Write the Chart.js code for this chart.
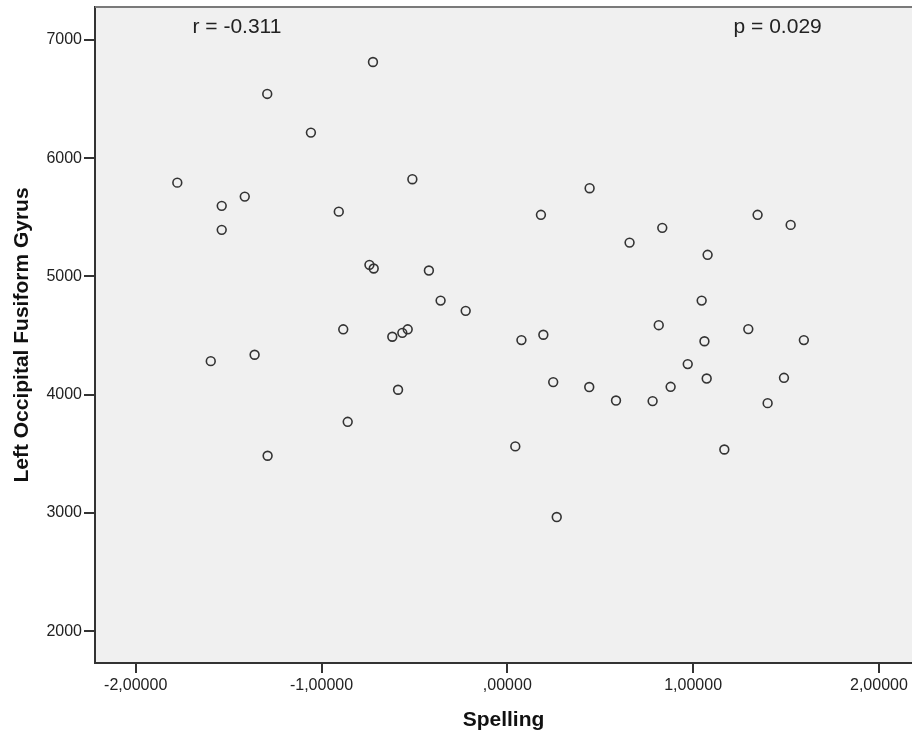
<!DOCTYPE html>
<html>
<head>
<meta charset="utf-8">
<script src="https://cdn.jsdelivr.net/npm/chart.js@4.4.1/dist/chart.umd.min.js"></script>
<style>
  html, body { margin: 0; padding: 0; background: #fff; }
  canvas { display: block; }
</style>
</head>
<body>
<canvas id="scatter" width="912" height="742"></canvas>
<script>
// values
const spelling = [
  -0.723, -1.292, -1.057, -1.776, -1.413, -1.537, -1.537, -0.907, -0.742, -0.719,
  -0.883, -0.511, -0.422, -0.359, -0.224, -0.619, -0.565, -0.536, -0.588, -1.596,
  -1.360, -0.859, -1.290, 0.181, 0.443, 0.658, 0.834, 1.347, 1.525, 1.078,
  1.046, 0.815, 1.297, 1.061, 1.596, 0.076, 0.194, 0.247, 0.441, 0.585,
  0.782, 0.971, 1.073, 0.879, 1.489, 1.401, 1.168, 0.043, 0.266
];
const fusiform = [
  6813, 6543, 6216, 5793, 5675, 5597, 5394, 5548, 5098, 5067,
  4553, 5822, 5050, 4796, 4709, 4490, 4523, 4553, 4042, 4284,
  4338, 3771, 3484, 5521, 5746, 5286, 5411, 5521, 5436, 5183,
  4796, 4588, 4555, 4452, 4462, 4462, 4507, 4107, 4065, 3951,
  3946, 4259, 4137, 4067, 4143, 3929, 3537, 3563, 2966
];
const xTicks = [-2, -1, 0, 1, 2];
const xTickLabels = ["-2,00000", "-1,00000", ",00000", "1,00000", "2,00000"];
const yTicks = [2000, 3000, 4000, 5000, 6000, 7000];
const statLabels = ["r = -0.311", "p = 0.029"];

const points = spelling.map((x, i) => ({ x, y: fusiform[i] }));

function noLabelPadding(scale) {
  scale.paddingLeft = 0;
  scale.paddingRight = 0;
  scale.paddingTop = 0;
  scale.paddingBottom = 0;
}

const plotFrame = {
  id: "plotFrame",
  beforeDraw(chart) {
    const { ctx, chartArea } = chart;
    ctx.save();
    ctx.fillStyle = "#f0f0f0";
    ctx.fillRect(chartArea.left, chartArea.top, chartArea.right - chartArea.left, chartArea.bottom - chartArea.top);
    ctx.restore();
  },
  afterDraw(chart) {
    const { ctx, chartArea } = chart;
    const xScale = chart.scales.x;
    ctx.save();
    ctx.strokeStyle = "#7a7a7a";
    ctx.lineWidth = 2;
    ctx.beginPath();
    ctx.moveTo(chartArea.left, chartArea.top);
    ctx.lineTo(chartArea.right, chartArea.top);
    ctx.stroke();
    ctx.fillStyle = "#222";
    ctx.font = "21px 'Liberation Sans', Arial, sans-serif";
    ctx.textAlign = "center";
    ctx.textBaseline = "middle";
    ctx.fillText(statLabels[0], xScale.getPixelForValue(-1.455), chartArea.top + 20);
    ctx.fillText(statLabels[1], xScale.getPixelForValue(1.455), chartArea.top + 20);
    ctx.restore();
  }
};

new Chart(document.getElementById("scatter"), {
  type: "scatter",
  data: {
    datasets: [
      {
        data: points,
        pointStyle: "circle",
        pointRadius: 4.4,
        pointHoverRadius: 4.4,
        borderWidth: 1.6,
        borderColor: "#333",
        backgroundColor: "rgba(0,0,0,0)"
      }
    ]
  },
  options: {
    responsive: false,
    animation: false,
    events: [],
    layout: { autoPadding: false, padding: { top: 7, right: 0, bottom: 0, left: 0 } },
    plugins: { legend: { display: false }, tooltip: { enabled: false } },
    scales: {
      x: {
        type: "linear",
        min: -2.219,
        max: 2.178,
        afterBuildTicks: (scale) => { scale.ticks = xTicks.map((value) => ({ value })); },
        afterFit: (scale) => { scale.height = 79; noLabelPadding(scale); },
        border: { display: true, color: "#333", width: 2 },
        grid: { drawOnChartArea: false, drawTicks: true, tickLength: 10, color: "#333", lineWidth: 2 },
        ticks: {
          padding: 3,
          color: "#222",
          font: { family: "'Liberation Sans', Arial, sans-serif", size: 16 },
          callback: (value) => xTickLabels[xTicks.indexOf(value)]
        },
        title: {
          display: true,
          text: "Spelling",
          color: "#111",
          font: { family: "'Liberation Sans', Arial, sans-serif", size: 21, weight: "bold" },
          padding: { top: 0, bottom: 9 }
        }
      },
      y: {
        type: "linear",
        min: 1732,
        max: 7278,
        afterBuildTicks: (scale) => { scale.ticks = yTicks.map((value) => ({ value })); },
        afterFit: (scale) => { scale.width = 95; noLabelPadding(scale); },
        border: { display: true, color: "#333", width: 2 },
        grid: { drawOnChartArea: false, drawTicks: true, tickLength: 11, color: "#333", lineWidth: 2 },
        ticks: {
          padding: 2,
          color: "#222",
          font: { family: "'Liberation Sans', Arial, sans-serif", size: 16 },
          callback: (value) => String(value)
        },
        title: {
          display: true,
          text: "Left Occipital Fusiform Gyrus",
          color: "#111",
          font: { family: "'Liberation Sans', Arial, sans-serif", size: 21, weight: "bold" },
          padding: { top: 10, bottom: 0 }
        }
      }
    }
  },
  plugins: [plotFrame]
});
</script>
</body>
</html>
